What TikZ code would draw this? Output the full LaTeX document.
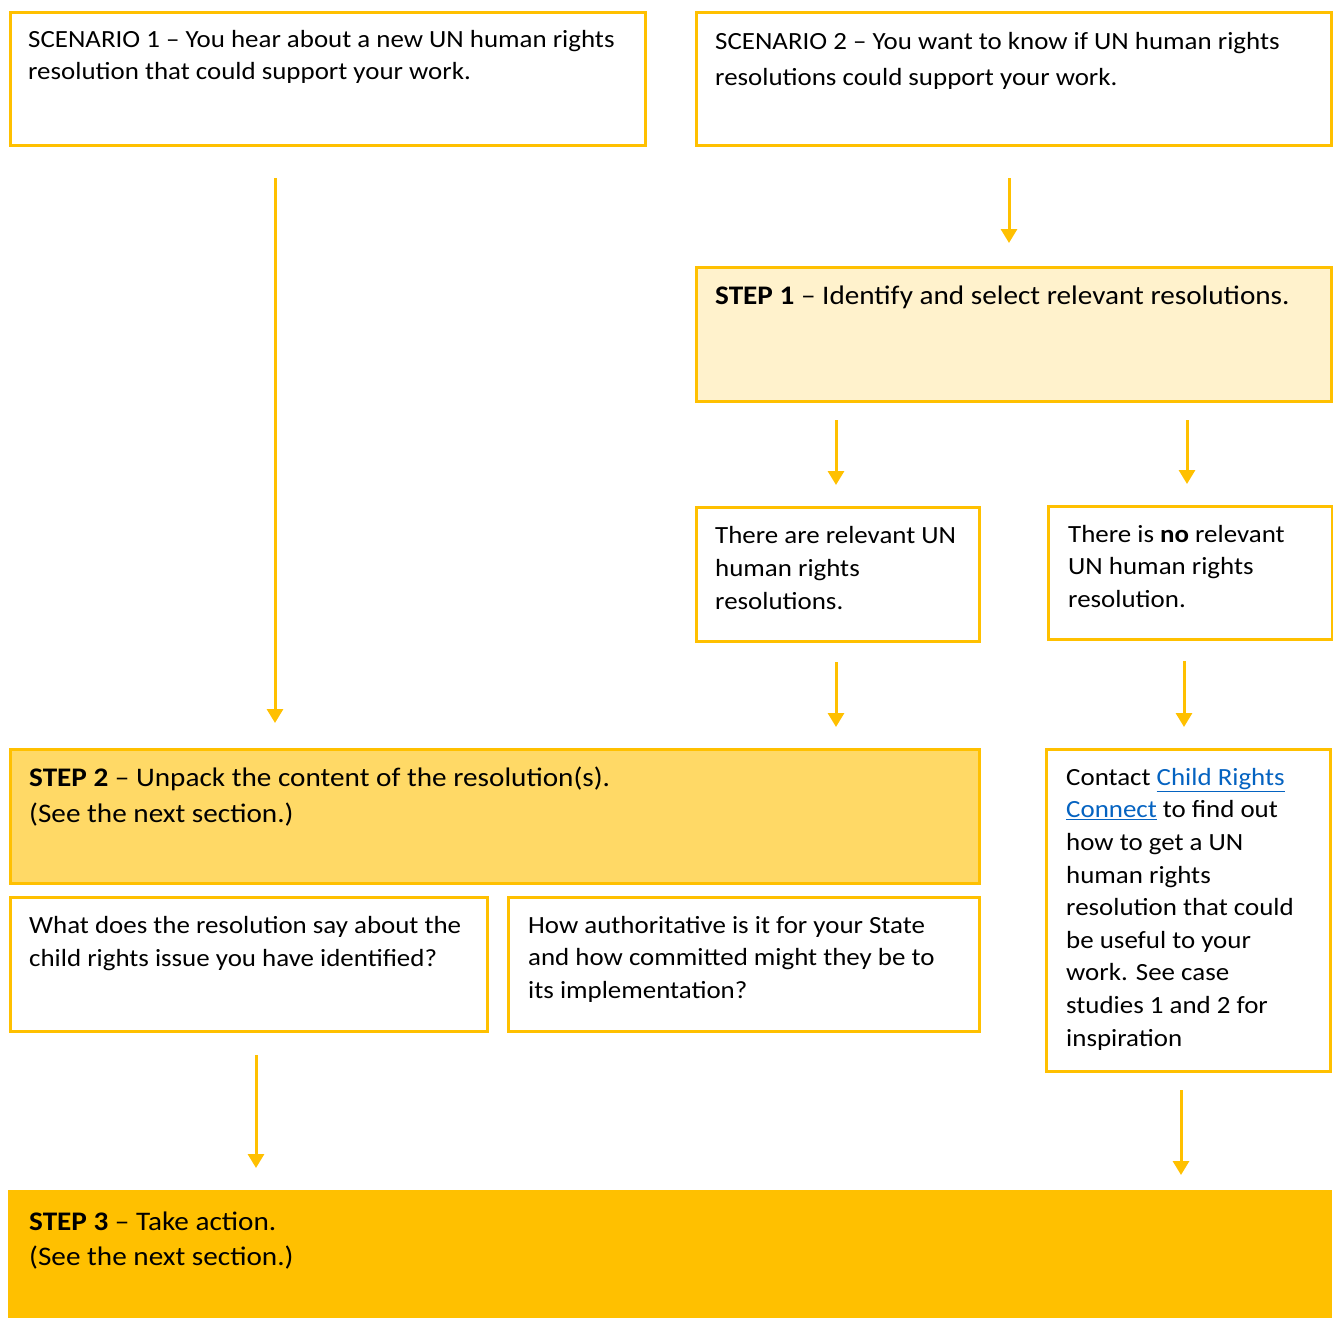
\documentclass[tikz,border=0pt]{standalone}
\usepackage{fontspec}
\setmainfont{Carlito}[FakeStretch=1.09]
\usetikzlibrary{arrows.meta}
\definecolor{gold}{HTML}{FFC000}
\definecolor{cream}{HTML}{FFF2CC}
\definecolor{mid}{HTML}{FFD966}
\definecolor{link}{HTML}{0563C1}
\begin{document}
\begin{tikzpicture}[x=1pt,y=-1pt,
  box/.style={draw=gold,line width=2.5pt,rectangle,inner sep=0pt,anchor=north west},
  txt/.style={anchor=base west,align=left,inner sep=0pt,text=black},
  arr/.style={draw=gold,line width=3pt,-{Triangle[width=16pt,length=14pt]}}]
\useasboundingbox[fill=white] (0,0) rectangle (1333,1317);
% boxes
\node[box,minimum width=635,minimum height=133] (s1) at (9,11) {};
\node[box,minimum width=635,minimum height=133] (s2) at (695,11) {};
\node[box,fill=cream,minimum width=635,minimum height=134] (st1) at (695,266) {};
\node[box,minimum width=283,minimum height=134] (r1) at (695,506) {};
\node[box,minimum width=284,minimum height=133] (r2) at (1047,505) {};
\node[box,fill=mid,minimum width=969,minimum height=134] (st2) at (9,748) {};
\node[box,minimum width=477,minimum height=134] (q1) at (9,896) {};
\node[box,minimum width=471,minimum height=134] (q2) at (507,896) {};
\node[box,minimum width=284,minimum height=322] (ct) at (1045,748) {};
\node[box,draw=gold,fill=gold,line width=0pt,minimum width=1323,minimum height=128] (st3) at (8,1190) {};
% texts (anchored at the baseline of the last line)
\node[txt,font=\fontsize{24.7}{32}\selectfont] (t1) at (28,79) {SCENARIO 1 -- You hear about a new UN human rights\\resolution that could support your work.};
\node[txt,font=\fontsize{24.7}{36}\selectfont] (t2) at (715,85) {SCENARIO 2 -- You want to know if UN human rights\\resolutions could support your work.};
\node[txt,font=\fontsize{26.8}{36}\selectfont] (t3) at (715,304) {\textbf{STEP 1} -- Identify and select relevant resolutions.};
\node[txt,font=\fontsize{24.7}{33}\selectfont] (t4) at (715,609) {There are relevant UN\\human rights\\resolutions.};
\node[txt,font=\fontsize{24.7}{32.5}\selectfont] (t5) at (1068,607) {There is \textbf{no} relevant\\UN human rights\\resolution.};
\node[txt,font=\fontsize{26.8}{36}\selectfont] (t6) at (29,822) {\textbf{STEP 2} -- Unpack the content of the resolution(s).\\(See the next section.)};
\node[txt,font=\fontsize{24.7}{33}\selectfont] (t7) at (29,966) {What does the resolution say about the\\child rights issue you have identified?};
\node[txt,font=\fontsize{24.7}{32.5}\selectfont] (t8) at (528,998) {How authoritative is it for your State\\and how committed might they be to\\its implementation?};
\node[txt,font=\fontsize{24.7}{32.6}\selectfont] (t9) at (1066,1046) {Contact \textcolor{link}{\underline{Child Rights}}\\\textcolor{link}{\underline{Connect}} to find out\\how to get a UN\\human rights\\resolution that could\\be useful to your\\work. See case\\studies 1 and 2 for\\inspiration};
\node[txt,font=\fontsize{26.8}{35}\selectfont] (t10) at (29,1265) {\textbf{STEP 3} -- Take action.\\(See the next section.)};
% connectors
\coordinate (a1s) at (275,178); \coordinate (a1e) at (275,723);
\coordinate (a2s) at (1009,178); \coordinate (a2e) at (1009,243);
\coordinate (a3s) at (836,420); \coordinate (a3e) at (836,485);
\coordinate (a4s) at (1187,420); \coordinate (a4e) at (1187,484);
\coordinate (a5s) at (836,662); \coordinate (a5e) at (836,727);
\coordinate (a6s) at (1184,661); \coordinate (a6e) at (1184,727);
\coordinate (a7s) at (256,1055); \coordinate (a7e) at (256,1168);
\coordinate (a8s) at (1181,1090); \coordinate (a8e) at (1181,1175);
\draw[arr] (a1s) -- (a1e);
\draw[arr] (a2s) -- (a2e);
\draw[arr] (a3s) -- (a3e);
\draw[arr] (a4s) -- (a4e);
\draw[arr] (a5s) -- (a5e);
\draw[arr] (a6s) -- (a6e);
\draw[arr] (a7s) -- (a7e);
\draw[arr] (a8s) -- (a8e);
\end{tikzpicture}
\end{document}
